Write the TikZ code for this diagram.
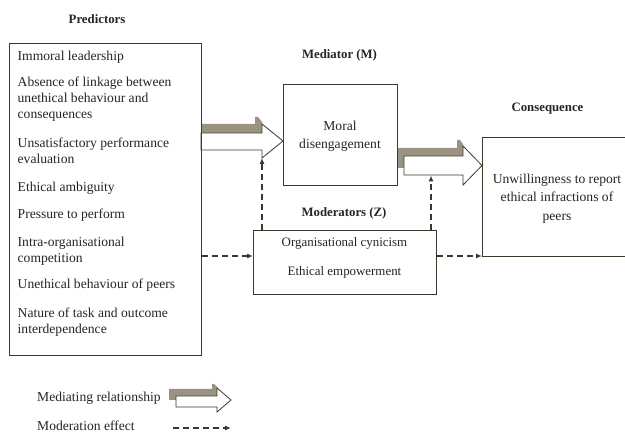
\documentclass[tikz,border=0pt]{standalone}
\usepackage{fontspec}
\setmainfont{Liberation Serif}
\usetikzlibrary{arrows.meta}
\definecolor{linec}{RGB}{62,55,44}
\definecolor{txtc}{RGB}{40,36,30}
\definecolor{shadowc}{RGB}{155,147,130}
\newcommand{\bodyfs}{\fontsize{13.6}{16}\selectfont}
\newcommand{\modfs}{\fontsize{12.9}{16}\selectfont}
\newcommand{\titlefs}{\fontsize{12.8}{15}\selectfont\bfseries}
\begin{document}
\begin{tikzpicture}[x=1pt,y=-1pt,
  every node/.style={text=txtc},
  box/.style={draw=linec, line width=1.1pt, inner sep=0pt},
  pline/.style={anchor=base west, inner sep=0pt, font=\bodyfs},
  ctext/.style={align=center, inner sep=0pt},
  title/.style={inner sep=0pt, font=\titlefs},
  modline/.style={draw=linec, line width=1.1pt, dash pattern=on 6pt off 4pt, -{Latex[length=6pt,width=5pt]}},
  fatshade/.style={fill=shadowc},
  fatarrow/.style={fill=white, draw=linec, line width=0.8pt, line join=miter}
]
\useasboundingbox (0,0) rectangle (625,433);

% mediating (fat) arrows
\fill[fatshade] (201,124) -- (255,124) -- (255,117) -- (258,117) -- (262,122) -- (262,133) -- (201,133) -- cycle;
\draw[fatarrow] (201,133) -- (262,133) -- (262,124) -- (283,141) -- (262,158) -- (262,150) -- (201,150) -- cycle;

\fill[fatshade] (398,148) -- (457,148) -- (457,140) -- (460,140) -- (463,144) -- (463,156) -- (404,156) -- (404,168) -- (398,168) -- cycle;
\draw[fatarrow] (404,156) -- (463,156) -- (463,146) -- (482,165.5) -- (463,185) -- (463,175) -- (404,175) -- cycle;

% titles
\node[title] (tpred) at (97,19) {Predictors};
\node[title] (tmed) at (339.5,55) {Mediator (M)};
\node[title] (tmod) at (344,213) {Moderators (Z)};
\node[title] (tcons) at (547.5,109) {Consequence};

% predictors box
\node[box, anchor=north west, minimum width=192.5pt, minimum height=312pt] (pred) at (8.5,43) {};
\foreach \yy/\txt [count=\i] in {
  61/Immoral leadership,
  87/Absence of linkage between,
  103/unethical behaviour and,
  119/consequences,
  148/Unsatisfactory performance,
  164/evaluation,
  192/Ethical ambiguity,
  219/Pressure to perform,
  246.5/Intra-organisational,
  262.5/competition,
  289/Unethical behaviour of peers,
  318/Nature of task and outcome,
  334/interdependence}
  \node[pline] (pl\i) at (17.5,\yy) {\txt};

% mediator box
\node[box, anchor=north west, minimum width=114pt, minimum height=101pt] (moral) at (283,84) {};
\node[ctext, font=\fontsize{13.6}{18}\selectfont] (moraltext) at (340,136) {Moral\\disengagement};

% moderators box
\node[box, anchor=north west, minimum width=183pt, minimum height=64pt] (mod) at (253,230) {};
\node[inner sep=0pt, font=\modfs] (modt1) at (344.5,243) {Organisational cynicism};
\node[inner sep=0pt, font=\modfs] (modt2) at (344.5,272) {Ethical empowerment};

% consequence box (runs off the right edge)
\begin{scope}
\clip (0,0) rectangle (625,433);
\node[box, anchor=north west, minimum width=160pt, minimum height=119pt] (cons) at (482,137) {};
\end{scope}
\node[ctext, font=\fontsize{13.6}{18.5}\selectfont] (constext) at (557,198.5) {Unwillingness to report\\ethical infractions of\\peers};

% moderation effects
\coordinate (dy) at (0,256);
\draw[modline] (pred.east |- dy) -- (mod.west |- dy);
\draw[modline] (mod.east |- dy) -- (cons.west |- dy);
\coordinate (v1) at (262,158);
\draw[modline] (mod.north -| v1) -- (v1);
\coordinate (v2) at (431,175.5);
\draw[modline] (mod.north -| v2) -- (v2);

% legend
\node[pline] (lg1) at (37,402) {Mediating relationship};
\node[pline] (lg2) at (37,430.5) {Moderation effect};
\fill[fatshade] (169,389) -- (212,389) -- (212,384) -- (214,384) -- (217,387) -- (217,396) -- (176,396) -- (176,400) -- (169,400) -- cycle;
\draw[fatarrow] (176,396) -- (217,396) -- (217,388) -- (231,400) -- (217,412) -- (217,407) -- (176,407) -- cycle;
\coordinate (lga) at (173,428);
\coordinate (lgb) at (231,428);
\draw[modline] (lga) -- (lgb);
\end{tikzpicture}
\end{document}
